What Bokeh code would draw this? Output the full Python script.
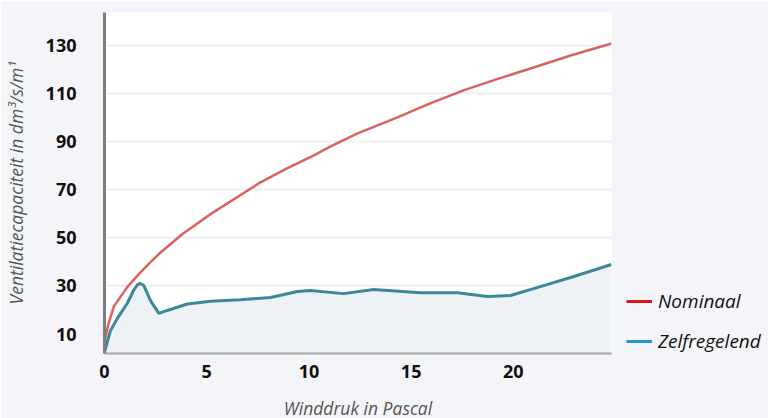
from bokeh.plotting import figure
from bokeh.models import Legend, LegendItem, FixedTicker, Range1d
from bokeh.embed import file_html
from bokeh.resources import INLINE

# Winddruk in Pascal (x) vs ventilatiecapaciteit (y)
nominaal_x = [0, 0.05, 0.20, 0.46, 1.11, 1.76, 2.25, 2.74, 3.8, 5.3, 6.6, 7.63,
              8.9, 10.22, 11.06, 12.38, 14.33, 15.9, 17.56, 19.2, 20.84, 22.8, 24.8]
nominaal_y = [5.0, 8.7, 14.4, 21.5, 29.5, 35.6, 39.9, 43.9, 51.5, 60.5, 67.5, 73.1,
              78.8, 84.2, 88.0, 93.4, 100.1, 105.8, 111.3, 116.0, 120.4, 125.8, 130.8]

zelf_x = [0, 0.29, 0.62, 1.11, 1.42, 1.60, 1.73, 1.92, 2.25, 2.66, 3.07, 4.05,
          5.19, 6.65, 8.12, 9.44, 10.08, 11.69, 13.16, 15.46, 17.27, 18.74,
          19.86, 20.99, 22.8, 24.8]
zelf_y = [2.4, 11.4, 16.4, 22.7, 28.1, 30.3, 31.1, 30.2, 23.9, 18.6, 19.8, 22.5,
          23.6, 24.3, 25.2, 27.7, 28.1, 26.8, 28.5, 27.2, 27.2, 25.6,
          26.0, 28.9, 33.5, 38.9]

x_ticks = [0, 5, 10, 15, 20]
y_ticks = [10, 30, 50, 70, 90, 110, 130]

series_names = ["Nominaal", "Zelfregelend"]

p = figure(frame_width=507, frame_height=341, output_backend="svg",
           toolbar_location=None,
           x_range=Range1d(0, 24.8), y_range=Range1d(1.9, 143.7),
           min_border_left=96, min_border_right=0, min_border_top=12,
           min_border_bottom=50)
p.background_fill_color = "white"
p.border_fill_color = "#f4f5f8"
p.outline_line_color = None

# area under Zelfregelend
p.varea(x=zelf_x, y1=0, y2=zelf_y, fill_color="#edf2f6")

p.line(nominaal_x, nominaal_y, line_color="#d9625f", line_width=2.5)
p.line(zelf_x, zelf_y, line_color="#3d8799", line_width=3)

# legend swatches (drawn outside the visible range, shown only in the legend)
r1 = p.line([-10, -9], [-10, -10], line_color="#e0121c", line_width=3)
r2 = p.line([-10, -9], [-10, -10], line_color="#1f97d4", line_width=3)

legend = Legend(items=[LegendItem(label=series_names[0], renderers=[r1]),
                       LegendItem(label=series_names[1], renderers=[r2])],
                location=(6, -10), orientation="vertical")
legend.background_fill_alpha = 0
legend.border_line_alpha = 0
legend.padding = 9
legend.margin = 0
legend.spacing = 14
legend.glyph_width = 26
legend.glyph_height = 14
legend.label_standoff = 6
legend.label_text_font = "Open Sans"
legend.label_text_font_style = "italic"
legend.label_text_font_size = "19px"
legend.label_text_color = "#111111"
legend.label_height = 14
p.add_layout(legend, "right")

# axes
p.xaxis.ticker = FixedTicker(ticks=x_ticks)
p.yaxis.ticker = FixedTicker(ticks=y_ticks)
for ax in (p.xaxis, p.yaxis):
    ax.major_tick_line_color = None
    ax.minor_tick_line_color = None
    ax.major_label_text_font = "Open Sans"
    ax.major_label_text_font_style = "bold"
    ax.major_label_text_font_size = "18px"
    ax.major_label_text_color = "#111111"
    ax.axis_label_text_font = "Open Sans"
    ax.axis_label_text_font_style = "italic"
    ax.axis_label_text_font_size = "17.5px"
    ax.axis_label_text_color = "#555555"

p.xaxis.axis_label = "Winddruk in Pascal"
p.yaxis.axis_label = "Ventilatiecapaciteit in dm³/s/m¹"
p.xaxis.axis_line_color = "#a8a8a8"
p.xaxis.axis_line_width = 2
p.yaxis.axis_line_color = "#7c7c7c"
p.yaxis.axis_line_width = 3
p.xaxis.major_label_standoff = 5
p.yaxis.major_label_standoff = 22
p.xaxis.axis_label_standoff = 15
p.yaxis.axis_label_standoff = 15

p.xgrid.grid_line_color = None
p.ygrid.grid_line_color = "#efefef"
p.ygrid.grid_line_width = 2

open("out.html", "w").write(file_html(p, INLINE))
